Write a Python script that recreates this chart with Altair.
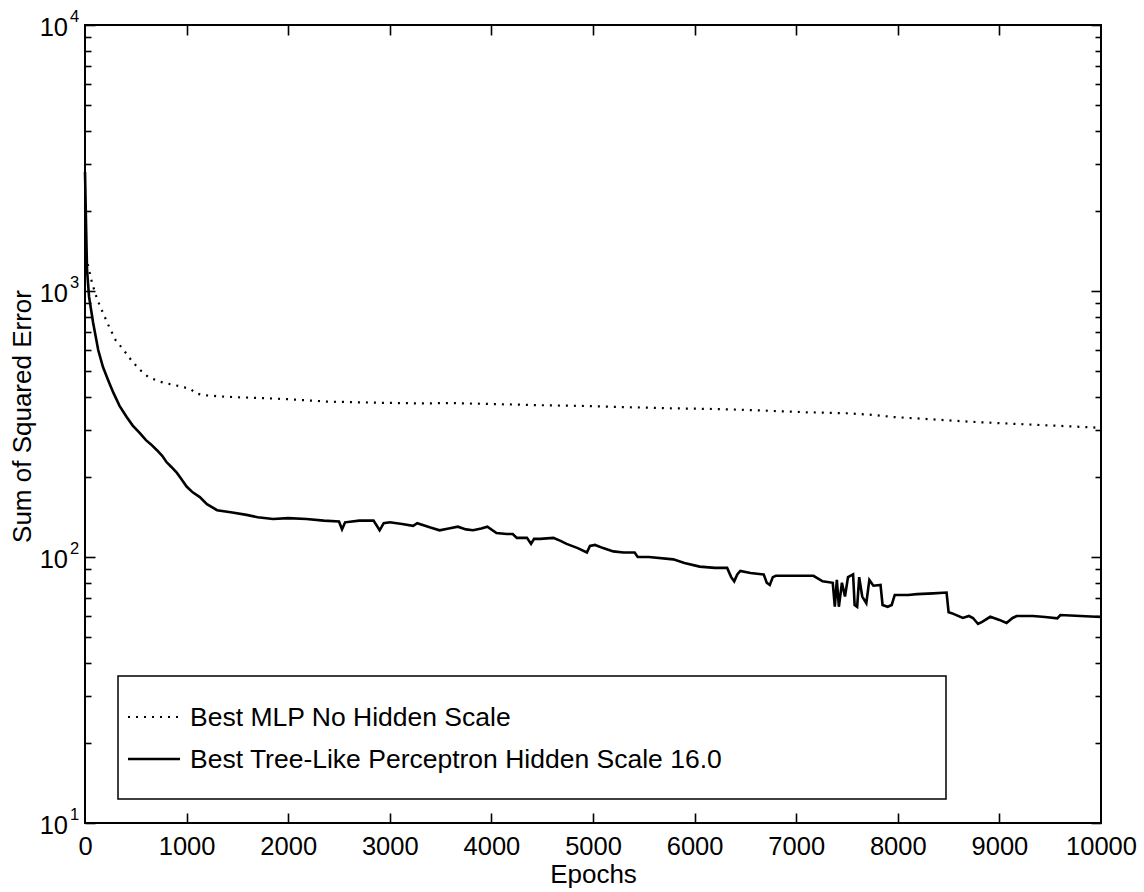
import altair as alt
import pandas as pd

FONT = "Liberation Sans, Arial, Helvetica, sans-serif"
W, H = 1016, 798

series_names = ["Best MLP No Hidden Scale", "Best Tree-Like Perceptron Hidden Scale 16.0"]

# --- Best MLP (dotted) ---
mlp_epochs = [10, 40, 70, 120, 177, 240, 300, 380, 450, 530, 620, 720, 820, 950, 1040, 1090,
              1160, 1400, 1720, 2000, 2380, 2900, 3300, 3620, 4000, 4500, 4870, 5300, 5800,
              6200, 6450, 6770, 7100, 7500, 7760, 7950, 8300, 8740, 9200, 9600, 10000]
mlp_sse = [1350, 1200, 1070, 930, 827, 730, 655, 600, 553, 510, 476, 458, 448, 437, 428, 413,
           406, 400, 396, 392, 384, 380, 378, 379, 376, 372, 370, 366, 362,
           360, 358, 354, 350, 347, 342, 336, 330, 322, 316, 311, 306]

# --- Best Tree-Like Perceptron (solid) ---
tree_epochs = [0, 10, 20, 40, 80, 130, 177, 230, 280, 340, 410, 470, 540, 600, 650, 708, 760, 800,
               850, 905, 950, 1000, 1060, 1130, 1200, 1300, 1450, 1590, 1700, 1850, 2000, 2180,
               2350, 2500, 2530, 2560, 2700, 2840, 2900, 2940, 3000, 3120, 3230, 3270, 3400,
               3490, 3580, 3670, 3750, 3820, 3900, 3960, 4050, 4150, 4210, 4250, 4350, 4390,
               4420, 4480, 4610, 4680, 4740, 4850, 4940, 4970, 5020, 5100, 5200, 5300, 5410,
               5440, 5550, 5790, 5900, 6050, 6200, 6320, 6360, 6390, 6420, 6450, 6550, 6680,
               6710, 6740, 6770, 6800, 7000, 7170, 7260, 7360, 7380, 7400, 7420, 7450, 7480,
               7510, 7560, 7575, 7600, 7620, 7650, 7690, 7720, 7760, 7830, 7850, 7900, 7940,
               7970, 8100, 8190, 8350, 8480, 8500, 8530, 8640, 8700, 8740, 8790, 8830, 8910,
               9000, 9070, 9130, 9170, 9330, 9450, 9570, 9600, 9800, 10000]
tree_sse = [2800, 1800, 1200, 950, 760, 600, 518, 460, 414, 370, 336, 312, 292, 275, 265, 252, 240, 228,
            218, 207, 196, 184, 175, 168, 158, 150, 147, 144, 141, 139, 140, 139,
            137, 136, 127, 135, 137, 137, 126, 134, 135, 133, 131, 134, 129,
            126, 128, 130, 127, 126, 128, 130, 123, 122, 122, 118, 118, 112,
            117, 117, 118, 115, 112, 108, 104, 110, 111, 108, 105, 104, 104,
            100, 100, 98, 95, 92, 91, 91, 84, 81, 86, 88.6, 87, 86,
            80, 78.5, 84, 85, 85, 85, 81, 80, 65, 82, 65, 80, 71,
            84, 86, 66, 65, 84, 71, 67, 82, 78, 78.5, 66, 65, 66,
            72, 72, 72.5, 73, 73.5, 62, 61.5, 59, 60, 59, 56, 57, 59.6,
            58, 56.5, 59, 60, 60, 59.5, 58.8, 60.5, 60, 59.5]

x_label_values = [0, 1000, 2000, 3000, 4000, 5000, 6000, 7000, 8000, 9000, 10000]
x_tick_values = [1000, 2000, 3000, 4000, 5000, 6000, 7000, 8000, 9000]
y_major = [10, 100, 1000, 10000]
y_exponents = ["1", "2", "3", "4"]
y_ticks = [10, 20, 30, 40, 50, 60, 70, 80, 90,
           100, 200, 300, 400, 500, 600, 700, 800, 900,
           1000, 2000, 3000, 4000, 5000, 6000, 7000, 8000, 9000, 10000]

mlp_df = pd.DataFrame({"epoch": mlp_epochs, "sse": mlp_sse, "series": series_names[0]})
tree_df = pd.DataFrame({"epoch": tree_epochs, "sse": tree_sse, "series": series_names[1]})
ylab_df = pd.DataFrame({"value": y_major, "exp": y_exponents})
legend_df = pd.DataFrame({"label": series_names})

xscale = alt.Scale(domain=[0, 10000], nice=False, zero=False)
yscale = alt.Scale(type="log", domain=[10, 10000], nice=False)

MAJOR_TEST = "abs(log(datum.value)/LN10 - round(log(datum.value)/LN10)) < 0.01"
ytick_size = {"condition": {"test": MAJOR_TEST, "value": 10}, "value": 6}

common_tick = dict(labels=False, domain=False, grid=False, tickColor="black", tickWidth=1.6)

# x axis with labels & title (bottom)
x_axis_labels = alt.Axis(orient="bottom", values=x_label_values, format="d", ticks=False,
                         domain=False, grid=False, labelFontSize=25.5, labelFont=FONT,
                         labelColor="black", labelPadding=11, labelFlush=False,
                         labelOverlap=False, title="Epochs", titleFontSize=26, titleFont=FONT,
                         titleFontWeight="normal", titleColor="black", titlePadding=2)
# inward ticks at bottom edge
x_axis_bottom_ticks = alt.Axis(orient="top", offset=-H, values=x_tick_values, tickSize=10,
                               title=None, **common_tick)
# inward ticks at top edge
x_axis_top_ticks = alt.Axis(orient="bottom", offset=-H, values=x_tick_values, tickSize=10,
                            title=None, **common_tick)
# inward ticks at left edge + y title
y_axis_left_ticks = alt.Axis(orient="right", offset=-W, values=y_ticks, tickSize=ytick_size,
                             title="Sum of Squared Error", titleAngle=270, titleX=-63,
                             titleY=H / 2 - 8, titleAlign="center", titleBaseline="middle",
                             titleFontSize=26, titleFont=FONT, titleFontWeight="normal",
                             titleColor="black", **common_tick)
# inward ticks at right edge
y_axis_right_ticks = alt.Axis(orient="left", offset=-W, values=y_ticks, tickSize=ytick_size,
                              title=None, **common_tick)

mlp_line = alt.Chart(mlp_df).mark_line(color="black", strokeWidth=2.2, strokeDash=[2, 6],
                                       strokeCap="butt").encode(
    x=alt.X("epoch:Q", scale=xscale, axis=x_axis_labels),
    y=alt.Y("sse:Q", scale=yscale, axis=y_axis_left_ticks),
)

tree_line = alt.Chart(tree_df).mark_line(color="black", strokeWidth=2.6).encode(
    x=alt.X("epoch:Q", scale=xscale, axis=x_axis_bottom_ticks),
    y=alt.Y("sse:Q", scale=yscale, axis=y_axis_right_ticks),
)

ylab_base = alt.Chart(ylab_df).mark_text(align="right", baseline="middle", fontSize=25.5,
                                         font=FONT, color="black", dx=-17, dy=3).encode(
    x=alt.X("x0:Q", scale=xscale, axis=x_axis_top_ticks),
    y=alt.Y("value:Q", scale=yscale, axis=None),
    text=alt.value("10"),
).transform_calculate(x0="0")

ylab_exp = alt.Chart(ylab_df).mark_text(align="left", baseline="middle", fontSize=16.5,
                                        font=FONT, color="black", dx=-15, dy=-8).encode(
    x=alt.X("x0:Q", scale=xscale, axis=None),
    y=alt.Y("value:Q", scale=yscale, axis=None),
    text="exp:N",
).transform_calculate(x0="0")

# legend (custom box like the original)
legend_box = alt.Chart(legend_df.head(1)).mark_rect(fill="white", stroke="black",
                                                    strokeWidth=1.5).encode(
    x=alt.value(33), x2=alt.value(861), y=alt.value(651), y2=alt.value(774))

leg_layers = []
row_y = [692, 734]
dashes = [[2, 6], [1, 0]]
widths = [2.2, 2.6]
for i, name in enumerate(series_names):
    base = alt.Chart(legend_df).transform_filter(alt.datum.label == name)
    rule = base.mark_rule(color="black", strokeWidth=widths[i], strokeDash=dashes[i],
                          strokeCap="butt").encode(
        x=alt.value(43), x2=alt.value(95), y=alt.value(row_y[i]))
    txt = base.mark_text(align="left", baseline="middle", fontSize=26.5, font=FONT,
                         color="black").encode(
        x=alt.value(105), y=alt.value(row_y[i] + 1), text="label:N")
    leg_layers += [rule, txt]

chart = alt.layer(mlp_line, tree_line, ylab_base, ylab_exp, legend_box, *leg_layers).resolve_axis(
    x="independent", y="independent"
).properties(
    width=W, height=H,
    padding={"left": 85, "top": 25, "right": 43, "bottom": 69},
    autosize=alt.AutoSizeParams(type="none"),
    background="white",
).configure_view(stroke="black", strokeWidth=2)

chart.save("out.html", embed_options={"renderer": "svg", "actions": False})
